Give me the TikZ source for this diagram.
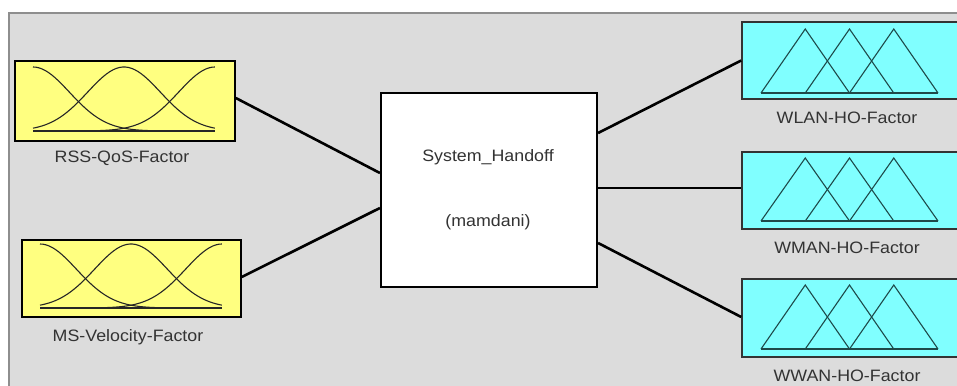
\documentclass[tikz,border=0pt]{standalone}
\usepackage{fontspec}
\setmainfont{Liberation Sans}[FakeStretch=1.08]
\definecolor{panelgray}{HTML}{DCDCDC}
\definecolor{framegray}{HTML}{8E8E8E}
\definecolor{inyellow}{HTML}{FFFF80}
\definecolor{outcyan}{HTML}{80FFFF}
\definecolor{labeltext}{HTML}{333333}
\definecolor{mfteal}{HTML}{1E4A4A}

% Gaussian membership functions (three sets) between x0 and x1
\newcommand{\gaussmfs}[4]{%
  \draw[mfyel] plot[domain=0:1,samples=60] ({#1+(#2-#1)*\x},{#4-(#4-#3)*exp(-(\x*\x)/0.08)});
  \draw[mfyel] plot[domain=0:1,samples=60] ({#1+(#2-#1)*\x},{#4-(#4-#3)*exp(-((\x-0.5)*(\x-0.5))/0.08)});
  \draw[mfyel] plot[domain=0:1,samples=60] ({#1+(#2-#1)*\x},{#4-(#4-#3)*exp(-((\x-1)*(\x-1))/0.08)});
  \draw[mfyel, line width=1.4pt] (#1,#4) -- (#2,#4);
}
% Triangular membership functions (three sets), start x0, half-width d
\newcommand{\trimfs}[4]{%
  \draw[mftri] (#1,#4) -- ({#1+#2},#3) -- ({#1+2*#2},#4);
  \draw[mftri] ({#1+#2},#4) -- ({#1+2*#2},#3) -- ({#1+3*#2},#4);
  \draw[mftri] ({#1+2*#2},#4) -- ({#1+3*#2},#3) -- ({#1+4*#2},#4);
  \draw[mftri, line width=1.4pt] (#1,#4) -- ({#1+4*#2},#4);
}

\begin{document}
\begin{tikzpicture}[x=1pt,y=-1pt,
  txt/.style={font=\fontsize{16.5}{19}\selectfont, text=labeltext, inner sep=0pt},
  inbox/.style={draw=black, line width=1.6pt, fill=inyellow, inner sep=0pt},
  outbox/.style={draw=black!80, line width=1.6pt, fill=outcyan, inner sep=0pt},
  sysbox/.style={draw=black, line width=2.2pt, fill=white, inner sep=0pt,
                 minimum width=216pt, minimum height=194pt},
  wire/.style={draw=black, line width=2.6pt},
  mfyel/.style={draw=black!85, line width=1.1pt},
  mftri/.style={draw=mfteal, line width=1.1pt}]

\useasboundingbox (0,0) rectangle (957,385);
\clip (0,0) rectangle (957,385);

% editor panel
\fill[white] (0,0) rectangle (957,385);
\fill[panelgray] (9,13) rectangle (970,400);
\draw[framegray, line width=2pt] (9,400) -- (9,13) -- (970,13);

% input variables
\node[inbox, minimum width=220pt, minimum height=80pt] (in1) at (125,101) {};
\node[inbox, minimum width=219pt, minimum height=77pt] (in2) at (131.5,278.5) {};
\gaussmfs{33}{215}{67}{131}
\gaussmfs{40}{222}{244}{308}
\node[txt] (in1lab) at (122,158) {RSS-QoS-Factor};
\node[txt] (in2lab) at (128,337) {MS-Velocity-Factor};

% fuzzy inference system
\node[sysbox] (sys) at (489,190) {};
\node[txt] (systitle) at (488,157) {System\_Handoff};
\node[txt] (systype) at (488,222) {(mamdani)};

% output variables
\node[outbox, minimum width=233pt, minimum height=77pt] (out1) at (858.5,60.5) {};
\node[outbox, minimum width=233pt, minimum height=77pt] (out2) at (858.5,190.5) {};
\node[outbox, minimum width=233pt, minimum height=78pt] (out3) at (858.5,318) {};
\trimfs{761}{44.25}{29}{93}
\trimfs{761}{44.25}{158}{221}
\trimfs{761}{44.25}{285}{349}
\node[txt] (out1lab) at (847,118) {WLAN-HO-Factor};
\node[txt] (out2lab) at (847,248) {WMAN-HO-Factor};
\node[txt] (out3lab) at (847,376) {WWAN-HO-Factor};

% connections
\draw[wire] ([yshift=3pt]in1.east) -- ([yshift=17pt]sys.west);
\draw[wire] ([yshift=1.5pt]in2.east) -- ([yshift=-18pt]sys.west);
\draw[wire] ([yshift=57pt]sys.east) -- (out1.west);
\draw[wire] ([yshift=2pt]sys.east) -- ([yshift=2.5pt]out2.west);
\draw[wire] ([yshift=-53pt]sys.east) -- ([yshift=1pt]out3.west);
\end{tikzpicture}
\end{document}
